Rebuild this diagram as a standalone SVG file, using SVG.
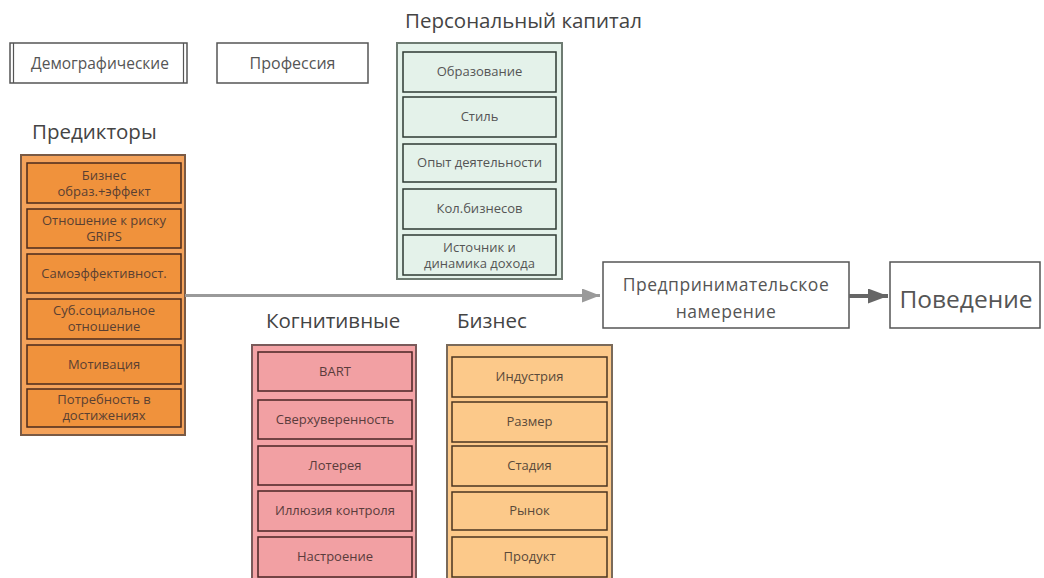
<svg xmlns="http://www.w3.org/2000/svg" width="1044" height="578" viewBox="0 0 1044 578">
<defs>
<style>
text{font-family:"Open Sans","Liberation Sans",sans-serif;fill:#555;text-anchor:middle}
.t{font-size:20.5px;fill:#444;text-anchor:start}
.s{font-size:13px}
.w{fill:#fff;stroke:#555;stroke-width:1.5}
.gc{fill:#e4f2ea;stroke:#6e7b72;stroke-width:2}
.gi{fill:#e4f2ea;stroke:#2e3a33;stroke-width:1.5}
.oc{fill:#f4a25a;stroke:#7a5a45;stroke-width:2}
.oi{fill:#f0923c;stroke:#4a2a1c;stroke-width:1.5}
.pc{fill:#f4a3a6;stroke:#7a5a5a;stroke-width:2}
.pi{fill:#f2a0a3;stroke:#4a2424;stroke-width:1.5}
.yc{fill:#fcc98a;stroke:#7a6a5a;stroke-width:2}
.yi{fill:#fcc98a;stroke:#4a3420;stroke-width:1.5}
.ot{fill:#5a4032}
.pt{fill:#5a3c3c}
.yt{fill:#5a4a3a}
</style>
<marker id="ah1" markerWidth="18" markerHeight="14" refX="18" refY="7" orient="auto" markerUnits="userSpaceOnUse"><path d="M0,0 L18,7 L0,14 Z" fill="#9a9a9a"/></marker>
<marker id="ah2" markerWidth="20" markerHeight="15" refX="20" refY="7.5" orient="auto" markerUnits="userSpaceOnUse"><path d="M0,0 L20,7.5 L0,15 Z" fill="#666"/></marker>
</defs>
<rect width="1044" height="578" fill="#fff"/>

<g id="demographic">
<rect class="w" x="10" y="43" width="177" height="40"/>
<line x1="13.5" y1="43" x2="13.5" y2="83" stroke="#555" stroke-width="1.2"/>
<line x1="183.5" y1="43" x2="183.5" y2="83" stroke="#555" stroke-width="1.2"/>
<text x="100" y="69" style="font-size:15.5px">Демографические</text>
</g>
<g id="profession">
<rect class="w" x="217" y="43" width="151" height="40"/>
<text x="292.5" y="69" style="font-size:16px">Профессия</text>
</g>

<g id="personal-capital">
<text class="t" x="405" y="28">Персональный капитал</text>
<rect class="gc" x="397" y="43" width="165" height="236"/>
<rect class="gi" x="403" y="52" width="153" height="40"/><text class="s" x="479.5" y="76">Образование</text>
<rect class="gi" x="403" y="97" width="153" height="40"/><text class="s" x="479.5" y="121">Стиль</text>
<rect class="gi" x="403" y="144" width="153" height="38"/><text class="s" x="479.5" y="167">Опыт деятельности</text>
<rect class="gi" x="403" y="189" width="153" height="40"/><text class="s" x="479.5" y="213">Кол.бизнесов</text>
<rect class="gi" x="403" y="235" width="153" height="40"/><text class="s" x="479.5" y="252">Источник и</text><text class="s" x="479.5" y="268">динамика дохода</text>
</g>

<g id="predictors">
<text class="t" x="32" y="139">Предикторы</text>
<rect class="oc" x="21" y="155" width="164" height="280"/>
<rect class="oi" x="27" y="163" width="154" height="40"/><text class="s ot" x="104" y="180">Бизнес</text><text class="s ot" x="104" y="196">образ.+эффект</text>
<rect class="oi" x="27" y="209" width="154" height="39"/><text class="s ot" x="104" y="225">Отношение к риску</text><text class="s ot" x="104" y="241">GRiPS</text>
<rect class="oi" x="27" y="254" width="154" height="39"/><text class="s ot" x="104" y="278">Самоэффективност.</text>
<rect class="oi" x="27" y="299" width="154" height="40"/><text class="s ot" x="104" y="315">Суб.социальное</text><text class="s ot" x="104" y="331">отношение</text>
<rect class="oi" x="27" y="345" width="154" height="39"/><text class="s ot" x="104" y="369">Мотивация</text>
<rect class="oi" x="27" y="389" width="154" height="38"/><text class="s ot" x="104" y="404">Потребность в</text><text class="s ot" x="104" y="420">достижениях</text>
</g>

<g id="intention">
<rect class="w" x="603" y="262" width="246" height="66"/>
<text x="726" y="291" style="font-size:17.5px;letter-spacing:0.5px">Предпринимательское</text>
<text x="726" y="318" style="font-size:17.5px;letter-spacing:0.5px">намерение</text>
</g>
<g id="behavior">
<rect class="w" x="890" y="262" width="150" height="66"/>
<text x="966" y="308" style="font-size:24.5px">Поведение</text>
</g>

<g id="cognitive">
<text class="t" x="266" y="328">Когнитивные</text>
<rect class="pc" x="252" y="345" width="164" height="240"/>
<rect class="pi" x="258" y="352" width="154" height="39"/><text class="s pt" x="335" y="376">BART</text>
<rect class="pi" x="258" y="400" width="154" height="39"/><text class="s pt" x="335" y="424">Сверхуверенность</text>
<rect class="pi" x="258" y="446" width="154" height="39"/><text class="s pt" x="335" y="470">Лотерея</text>
<rect class="pi" x="258" y="491" width="154" height="40"/><text class="s pt" x="335" y="515">Иллюзия контроля</text>
<rect class="pi" x="258" y="537" width="154" height="40"/><text class="s pt" x="335" y="561">Настроение</text>
</g>

<g id="business">
<text class="t" x="457" y="328">Бизнес</text>
<rect class="yc" x="447" y="345" width="165" height="240"/>
<rect class="yi" x="452" y="357" width="155" height="40"/><text class="s yt" x="529.5" y="381">Индустрия</text>
<rect class="yi" x="452" y="402" width="155" height="40"/><text class="s yt" x="529.5" y="426">Размер</text>
<rect class="yi" x="452" y="446" width="155" height="40"/><text class="s yt" x="529.5" y="470">Стадия</text>
<rect class="yi" x="452" y="492" width="155" height="38"/><text class="s yt" x="529.5" y="515">Рынок</text>
<rect class="yi" x="452" y="537" width="155" height="40"/><text class="s yt" x="529.5" y="561">Продукт</text>
</g>

<g id="connectors">
<line x1="185" y1="295.5" x2="600" y2="295.5" stroke="#9a9a9a" stroke-width="3" marker-end="url(#ah1)"/>
<line x1="849" y1="296" x2="888" y2="296" stroke="#666" stroke-width="4" marker-end="url(#ah2)"/>
</g>
</svg>
